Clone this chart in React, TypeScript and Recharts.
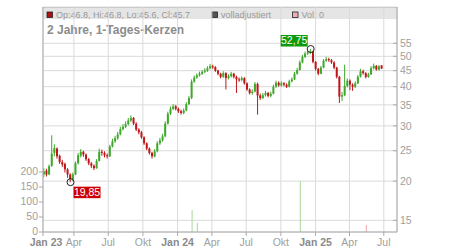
import React from 'react';
import { ComposedChart, Bar, XAxis, YAxis, CartesianGrid, Cell, ReferenceDot } from 'recharts';

// weekly candles, first one ~ 12 Jan 2023 (days counted from 1 Jan 2023)
const firstDay = 11;
const stepDays = 7;

const opens = [
    21.0, 21.6, 21.0, 22.4, 24.6, 25.4, 24.1, 23.0, 22.7, 21.8,
    21.0, 20.3, 21.0, 22.8, 24.1, 24.8, 24.3, 23.5, 22.8, 22.4,
    22.0, 23.2, 24.8, 24.6, 24.2, 24.0, 25.8, 26.8, 27.4, 28.2,
    29.3, 29.8, 30.4, 31.2, 31.8, 30.5, 29.2, 28.6, 27.6, 26.4,
    25.4, 24.6, 24.0, 24.9, 26.4, 27.0, 27.8, 30.5, 32.8, 34.0,
    34.6, 34.0, 33.4, 33.0, 33.6, 35.2, 36.8, 41.5, 42.8, 43.5,
    44.0, 44.6, 45.0, 45.8, 46.5, 46.2, 45.0, 44.0, 43.0, 44.2,
    42.6, 43.2, 44.0, 43.0, 42.2, 42.0, 42.6, 41.0, 39.2, 38.2,
    38.6, 40.8, 37.5, 36.8, 37.6, 38.2, 37.4, 38.0, 40.0, 41.2,
    40.4, 41.0, 40.6, 40.0, 41.6, 42.2, 44.0, 45.2, 47.8, 49.8,
    51.0, 51.5, 51.8, 48.0, 45.6, 44.0, 46.0, 48.4, 49.0, 48.6,
    47.8, 46.0, 43.0, 37.2, 37.6, 40.2, 41.8, 40.6, 40.0, 41.0,
    43.0, 44.8, 44.2, 43.0, 43.8, 45.8, 46.6, 45.4, 46.8,
];
const closes = [
    21.5, 21.0, 22.3, 24.5, 25.5, 24.0, 23.0, 22.6, 21.8, 21.0,
    20.3, 21.0, 22.8, 24.2, 24.8, 24.3, 23.5, 22.8, 22.4, 22.0,
    23.2, 24.8, 24.6, 24.2, 24.0, 25.8, 26.8, 27.4, 28.2, 29.3,
    29.8, 30.4, 31.2, 31.8, 30.5, 29.2, 28.6, 27.6, 26.4, 25.4,
    24.6, 24.0, 24.9, 26.4, 27.0, 27.8, 30.5, 32.8, 34.0, 34.6,
    34.0, 33.4, 33.0, 33.6, 35.2, 36.8, 41.5, 42.8, 43.5, 44.0,
    44.6, 45.0, 45.8, 46.5, 46.2, 45.0, 44.0, 43.0, 44.2, 42.6,
    43.2, 44.0, 43.0, 42.2, 42.0, 42.6, 41.0, 39.2, 38.2, 38.6,
    40.8, 37.5, 36.8, 37.6, 38.2, 37.4, 38.0, 40.0, 41.2, 40.4,
    41.0, 40.6, 40.0, 41.6, 42.2, 44.0, 45.2, 47.8, 49.8, 51.0,
    51.5, 51.8, 48.0, 45.6, 44.0, 46.0, 48.4, 49.0, 48.6, 47.8,
    46.0, 43.0, 37.2, 37.6, 40.2, 41.8, 40.6, 40.0, 41.0, 43.0,
    44.8, 44.2, 43.0, 43.8, 45.8, 46.6, 45.4, 46.4, 45.7,
];
const highs = [
    22.0, 21.9, 22.6, 28.0, 26.2, 25.6, 24.3, 23.4, 22.9, 22.0,
    21.2, 21.3, 23.1, 24.6, 25.3, 25.0, 24.5, 23.7, 23.0, 22.6,
    23.5, 25.4, 25.2, 24.9, 24.5, 26.1, 27.3, 27.9, 28.7, 29.8,
    30.4, 31.0, 31.8, 32.4, 32.0, 30.8, 29.5, 28.9, 27.8, 26.6,
    25.6, 24.8, 25.3, 26.8, 27.5, 28.3, 31.0, 33.3, 34.6, 35.2,
    35.0, 34.3, 33.8, 34.1, 35.7, 37.4, 42.2, 43.4, 44.1, 44.7,
    45.2, 45.8, 46.5, 47.3, 47.0, 46.5, 45.3, 44.3, 44.8, 44.5,
    43.8, 44.6, 44.3, 43.4, 42.8, 43.2, 42.9, 41.3, 39.5, 39.2,
    41.4, 41.2, 38.0, 38.2, 38.8, 38.5, 38.6, 40.6, 41.8, 41.6,
    41.6, 41.4, 41.0, 42.1, 42.8, 44.6, 45.9, 48.5, 50.5, 51.8,
    52.2, 52.75, 52.0, 48.3, 45.9, 46.6, 49.0, 49.8, 49.5, 49.0,
    48.2, 46.3, 43.3, 38.5, 47.0, 42.5, 42.2, 41.0, 41.6, 43.6,
    45.6, 45.3, 44.5, 44.3, 46.5, 47.4, 46.9, 46.9, 46.8,
];
const lows = [
    20.6, 20.7, 20.9, 22.2, 24.0, 23.6, 22.7, 22.2, 21.3, 20.5,
    19.85, 20.0, 20.9, 22.6, 23.8, 23.9, 23.2, 22.5, 22.0, 21.7,
    21.9, 23.1, 24.1, 23.8, 23.6, 23.9, 25.6, 26.5, 27.1, 28.0,
    29.0, 29.5, 30.1, 30.9, 30.2, 28.9, 28.2, 27.3, 26.1, 25.1,
    24.3, 23.6, 23.8, 24.7, 26.1, 26.7, 27.6, 30.3, 32.5, 33.7,
    33.6, 33.0, 32.6, 32.7, 33.4, 35.0, 36.5, 41.2, 42.4, 43.1,
    43.6, 44.2, 44.6, 45.4, 45.6, 44.6, 43.5, 42.5, 42.7, 39.2,
    42.2, 42.8, 42.5, 38.2, 41.5, 41.6, 40.6, 38.8, 37.8, 37.7,
    38.4, 32.6, 36.3, 36.5, 37.2, 37.0, 37.0, 37.8, 39.7, 40.0,
    40.0, 40.1, 39.6, 39.8, 41.3, 42.0, 43.7, 45.0, 47.5, 49.4,
    50.5, 50.8, 47.5, 45.0, 43.5, 43.8, 45.8, 48.0, 48.0, 47.3,
    45.5, 42.5, 35.5, 36.0, 37.3, 39.8, 39.0, 38.8, 39.6, 40.8,
    42.8, 43.7, 42.5, 42.7, 43.6, 45.4, 45.0, 45.0, 45.6,
];

// the few weeks that show any volume
const volumeWeeks = [56, 58, 97, 122];
const volumeValues = [73, 31, 168, 23];

const monthTicks = [8, 90, 181, 273, 365, 456, 547, 639, 731, 821, 912];
const monthLabels = ['Jan 23', 'Apr', 'Jul', 'Okt', 'Jan 24', 'Apr', 'Jul', 'Okt', 'Jan 25', 'Apr', 'Jul'];
const priceTicks = [15, 20, 25, 30, 35, 40, 45, 50, 55];
const volumeTicks = [0, 50, 100, 150, 200];

const highPoint = { week: 101, value: 52.75, label: '52,75' };
const lowPoint = { week: 10, value: 19.85, label: '19,85' };

const GREEN = '#3ea82a';
const RED = '#c0161a';
const FONT = '"Liberation Sans", Arial, sans-serif';

const data = closes.map((close, i) => {
    const v = volumeWeeks.indexOf(i);
    return {
        day: firstDay + stepDays * i,
        open: opens[i],
        high: highs[i],
        low: lows[i],
        close,
        volume: v >= 0 ? volumeValues[v] : 0,
    };
});

const Candle = (props: any) => {
    const { x, y, width, height, payload } = props;
    if (!payload) return null;
    const { open, close, high, low } = payload;
    const top = Math.min(y, y + height);
    const h = Math.abs(height);
    const span = Math.log(high) - Math.log(low);
    const py = (v: number) => top + (span > 0 ? ((Math.log(high) - Math.log(v)) / span) * h : 0);
    const color = close >= open ? GREEN : RED;
    const cx = x + width / 2;
    const y1 = py(Math.max(open, close));
    const y2 = py(Math.min(open, close));
    return (
        <g>
            <line x1={cx} x2={cx} y1={top} y2={top + h} stroke={color} strokeWidth={1} />
            <rect x={x} y={y1} width={width} height={Math.max(1, y2 - y1)} fill={color} />
        </g>
    );
};

const MonthTick = (props: any) => {
    const { x, y, payload } = props;
    const idx = monthTicks.indexOf(payload.value);
    const label = monthLabels[idx] ?? '';
    const isYear = label.startsWith('Jan');
    // first label sits a bit right of the frame corner, clear of the volume "0"
    const shift = idx === 0 ? 3 : 0;
    return (
        <text x={x + shift} y={y} dy="0.71em" textAnchor="middle" fontFamily={FONT} fontSize={10.5}
            fontWeight={isYear ? 'bold' : 'normal'} fill={isYear ? '#8a8a8a' : '#a0a0a0'}>
            {label}
        </text>
    );
};

const VolumeTick = (props: any) => {
    const { x, y, payload } = props;
    return (
        <text x={x} y={y} dy="0.3em" textAnchor="end" fontFamily={FONT} fontSize={10.5} fill="#a0a0a0">
            {payload.value}
        </text>
    );
};

// right axis ticks point inwards, labels sit just outside the frame
const PriceTick = (props: any) => {
    const { x, y, payload } = props;
    return (
        <g>
            <line x1={x - 7} x2={x - 3} y1={y} y2={y} stroke="#aaa" />
            <text x={x} y={y} dy="0.355em" textAnchor="start" fontFamily={FONT} fontSize={10.5} fill="#a0a0a0">
                {payload.value}
            </text>
        </g>
    );
};

const Marker = (props: any, text: string, fill: string, above: boolean) => {
    const { cx, cy } = props;
    const bx = above ? cx - 30 : cx + 3;
    const by = above ? cy - 14 : cy + 4.5;
    return (
        <g>
            <circle cx={cx} cy={cy} r={3.5} fill="none" stroke="#222" strokeWidth={1} />
            <rect x={bx} y={by} width={27} height={11.5} fill={fill} />
            <text x={bx + 13.5} y={by + 9.2} textAnchor="middle" fontFamily={FONT} fontSize={10.5} fill="#fff">
                {text}
            </text>
        </g>
    );
};

const App: React.FC = () => {
    return (
        <div style={{ position: 'absolute', left: 0, top: 0, width: 450, height: 250, fontFamily: FONT }}>
            {/* legend band + title, drawn under the chart */}
            <svg width={450} height={250} style={{ position: 'absolute', left: 0, top: 0 }}>
                <rect x={42.5} y={7} width={355} height={12} fill="#e5e5e5" />
                <line x1={42.5} x2={397.5} y1={7.5} y2={7.5} stroke="#bbb" />
                <rect x={47} y={12} width={5.5} height={5.5} fill="#b01010" stroke="#222" strokeWidth={0.8} />
                <text x={56} y={18} fontSize={9} fill="#999">Op:46.8, Hi:46.8, Lo:45.6, Cl:45.7</text>
                <rect x={212} y={12} width={5.5} height={5.5} fill="#555" stroke="#222" strokeWidth={0.8} />
                <text x={221} y={18} fontSize={9} fill="#999">volladjustiert</text>
                <rect x={292.5} y={12} width={5.5} height={5.5} fill="#f2aeb6" stroke="#222" strokeWidth={0.8} />
                <text x={301.5} y={18} fontSize={9} fill="#999">Vol: 0</text>
                <text x={47} y={33.5} fontSize={12} fontWeight="bold" fill="#8c8c8c">2 Jahre, 1-Tages-Kerzen</text>
            </svg>
            <div style={{ position: 'absolute', left: 0, top: 0 }}>
                <ComposedChart width={450} height={250} data={data} margin={{ top: 7, right: 0, bottom: 0, left: 0 }}>
                    <CartesianGrid xAxisId="t" yAxisId="price" stroke="#dadada" />
                    <XAxis xAxisId="t" dataKey="day" type="number" domain={[8, 947]} allowDataOverflow
                        ticks={monthTicks} interval={0} tick={<MonthTick />} height={18}
                        tickSize={4} tickMargin={2.5} stroke="#aaa" />
                    <XAxis xAxisId="vol" dataKey="day" type="number" domain={[8, 947]} allowDataOverflow hide />
                    <YAxis yAxisId="vol" orientation="left" domain={[0, 750]} allowDataOverflow ticks={volumeTicks}
                        interval={0} width={43} tickSize={4} tickMargin={1} stroke="#aaa" tick={<VolumeTick />} />
                    <YAxis yAxisId="price" orientation="right" scale="log" domain={[13.77, 71.8]} allowDataOverflow
                        ticks={priceTicks} interval={0} width={53} tickSize={0} tickMargin={3} tickLine={false}
                        stroke="#aaa" tick={<PriceTick />} />
                    <Bar xAxisId="vol" yAxisId="vol" dataKey="volume" barSize={1} isAnimationActive={false}>
                        {data.map((d, i) => (
                            <Cell key={`vol-${i}`} fill={d.close >= d.open ? '#a6d99a' : '#f0a4aa'} />
                        ))}
                    </Bar>
                    <Bar xAxisId="t" yAxisId="price" dataKey={(d: any) => [d.low, d.high]} barSize={2}
                        isAnimationActive={false} shape={(p: any) => <Candle {...p} />} />
                    <ReferenceDot xAxisId="t" yAxisId="price" x={firstDay + stepDays * highPoint.week} y={highPoint.value}
                        shape={(p: any) => Marker(p, highPoint.label, '#0a9a0a', true)} />
                    <ReferenceDot xAxisId="t" yAxisId="price" x={firstDay + stepDays * lowPoint.week} y={lowPoint.value}
                        shape={(p: any) => Marker(p, lowPoint.label, '#cc0000', false)} />
                </ComposedChart>
            </div>
        </div>
    );
};

export default App;
